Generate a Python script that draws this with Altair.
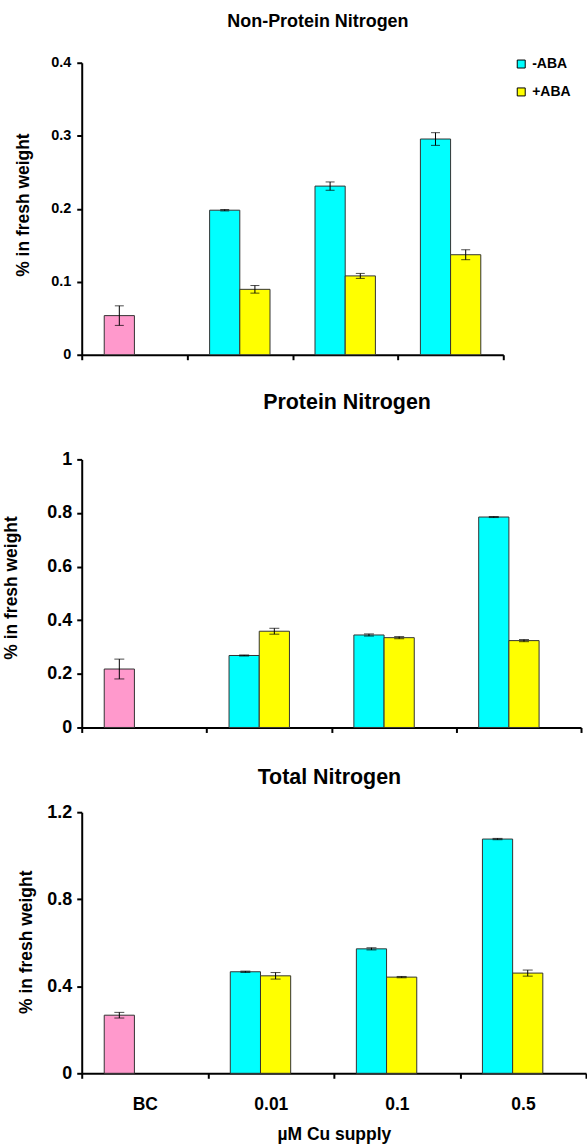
import altair as alt
import pandas as pd

categories = ["BC", "0.01", "0.1", "0.5"]
series_names = ["-ABA", "+ABA"]
color_keys = ["BC", "-ABA", "+ABA"]
color_range = ["#FF99CC", "#00FFFF", "#FFFF00"]

# Non-Protein Nitrogen
npn_minus = [0.0536, 0.198, 0.231, 0.2955]
npn_minus_err = [0.0134, 0.001, 0.0057, 0.0087]
npn_plus = [None, 0.0896, 0.108, 0.137]
npn_plus_err = [None, 0.0052, 0.0034, 0.0068]

# Protein Nitrogen
pn_minus = [0.218, 0.2685, 0.345, 0.785]
pn_minus_err = [0.037, 0.002, 0.004, 0.002]
pn_plus = [None, 0.359, 0.335, 0.324]
pn_plus_err = [None, 0.011, 0.004, 0.004]

# Total Nitrogen
tn_minus = [0.267, 0.4666, 0.572, 1.0765]
tn_minus_err = [0.013, 0.003, 0.005, 0.003]
tn_plus = [None, 0.448, 0.442, 0.4605]
tn_plus_err = [None, 0.015, 0.003, 0.014]

FONT = "Liberation Sans, Arial, sans-serif"


def build(minus, minus_err, plus, plus_err):
    rows = []
    for i, c in enumerate(categories):
        rows.append(dict(cat=c, series="-ABA", key="BC" if c == "BC" else "-ABA",
                         value=minus[i], lo=minus[i] - minus_err[i], hi=minus[i] + minus_err[i]))
        if plus[i] is not None:
            rows.append(dict(cat=c, series="+ABA", key="+ABA",
                             value=plus[i], lo=plus[i] - plus_err[i], hi=plus[i] + plus_err[i]))
    return pd.DataFrame(rows)


def panel(df, ymax, ticks, width, height, title, title_size, title_offset, title_dx,
          ytitle_x, ytitle_y, label_size, label_pad, x_labels, legend, cap):
    if x_labels:
        xaxis = alt.Axis(title="µM Cu supply", tickBand="extent", labels=True, labelAngle=0,
                         labelFont=FONT, labelFontSize=17.5, labelFontWeight="bold", labelColor="black",
                         labelPadding=17, titleFont=FONT, titleFontSize=17.5, titleFontWeight="bold",
                         titleColor="black", titlePadding=13, domainColor="black", domainWidth=2,
                         tickColor="black", tickWidth=2, tickSize=5)
    else:
        xaxis = alt.Axis(title=None, tickBand="extent", labels=False, domainColor="black",
                         domainWidth=2, tickColor="black", tickWidth=2, tickSize=5)
    x = alt.X("cat:N", sort=categories, scale=alt.Scale(paddingInner=0, paddingOuter=0), axis=xaxis)
    xo = alt.XOffset("series:N", sort=series_names,
                     scale=alt.Scale(domain=series_names, paddingInner=0, paddingOuter=0.745))
    y = alt.Y("value:Q", scale=alt.Scale(domain=[0, ymax], nice=False, zero=True),
              axis=alt.Axis(title="% in fresh weight", values=ticks, format="~g", grid=False,
                            labelFont=FONT, labelFontSize=label_size, labelFontWeight="bold",
                            labelColor="black", labelPadding=label_pad,
                            titleFont=FONT, titleFontSize=17.5, titleFontWeight="bold",
                            titleColor="black", titleX=ytitle_x, titleY=ytitle_y,
                            titleBaseline="middle", titleAngle=270,
                            domainColor="black", domainWidth=2, tickColor="black",
                            tickWidth=2, tickSize=5))
    color = alt.Color("key:N", scale=alt.Scale(domain=color_keys, range=color_range),
                      legend=legend)
    base = alt.Chart(df)
    bars = base.mark_bar(stroke="#333333", strokeWidth=1).encode(x=x, xOffset=xo, y=y, color=color)
    xs = alt.X("cat:N", sort=categories)
    rules = base.mark_rule(color="black", strokeWidth=1).encode(x=xs, xOffset=xo, y="lo:Q", y2="hi:Q")
    cap_lo = base.mark_tick(color="black", size=cap, thickness=1, orient="horizontal").encode(
        x=xs, xOffset=xo, y="lo:Q")
    cap_hi = base.mark_tick(color="black", size=cap, thickness=1, orient="horizontal").encode(
        x=xs, xOffset=xo, y="hi:Q")
    return alt.layer(bars, rules, cap_lo, cap_hi).properties(
        width=width, height=height,
        title=alt.TitleParams(text=title, font=FONT, fontSize=title_size, fontWeight="bold",
                              color="black", anchor="middle", frame="group", offset=title_offset,
                              dx=title_dx, baseline="alphabetic"))


legend1 = alt.Legend(title=None, orient="none", legendX=434, legendY=-5.7,
                     values=series_names, symbolType="square", symbolSize=64,
                     symbolStrokeColor="black", symbolStrokeWidth=1, symbolOpacity=1,
                     labelFont=FONT, labelFontSize=14, labelFontWeight="bold", labelColor="black",
                     labelOffset=4, rowPadding=14, padding=0)

p1 = panel(build(npn_minus, npn_minus_err, npn_plus, npn_plus_err), 0.4,
           [0, 0.1, 0.2, 0.3, 0.4], 423, 293, "Non-Protein Nitrogen", 18, 9.4, 25.5,
           -58, 142.3, 14.5, 6, False, legend1, 9)
p2 = panel(build(pn_minus, pn_minus_err, pn_plus, pn_plus_err), 1.0,
           [0, 0.2, 0.4, 0.6, 0.8, 1.0], 501, 269, "Protein Nitrogen", 21.5, 19.6, 15.7,
           -70.2, 128.5, 18, 5, False, None, 10)
p3 = panel(build(tn_minus, tn_minus_err, tn_plus, tn_plus_err), 1.2,
           [0, 0.4, 0.8, 1.2], 506, 262, "Total Nitrogen", 21.5, -2, -4.5,
           -55.5, 130, 18, 5, True, None, 10)

chart = alt.vconcat(p1, p2, p3, spacing=30).resolve_scale(
    color="independent").resolve_legend(color="independent").properties(
    padding={"left": 2, "top": 11, "right": 0, "bottom": 0}, background="white"
).configure_view(stroke=None)

chart.save("out.html", embed_options={"renderer": "svg", "actions": False})
